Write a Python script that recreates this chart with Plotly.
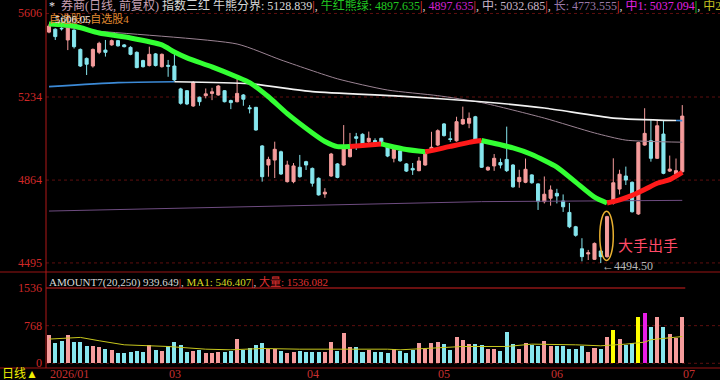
import plotly.graph_objects as go

W, H = 720, 380

# ---------------- data ----------------
TICK_IDX = [0, 19, 41, 62, 80, 101]
TICK_LABELS = ["2026/01", "03", "04", "05", "06", "07"]
PRICE_TICKS = [5606, 5234, 4864, 4495]
VOL_TICKS = [1536, 768, 0]

OPEN = [5523, 5536, 5540, 5488, 5532, 5446, 5406, 5372, 5433, 5443,
        5466, 5485, 5466, 5455, 5433, 5396, 5374, 5426, 5369, 5375,
        5372, 5270, 5262, 5194, 5233, 5240, 5250, 5243, 5262, 5218,
        5213, 5243, 5186, 5188, 5016, 4931, 4953, 4990, 4857, 4857,
        4921, 4946, 4916, 4872, 4802, 4882, 4936, 4931, 4968, 5057,
        5068, 5035, 5040, 5050, 5017, 4961, 4994, 4936, 4916, 4906,
        4931, 4995, 5020, 5114, 5048, 5039, 5114, 5117, 5146, 5035,
        4909, 4927, 4942, 4956, 4931, 4857, 4854, 4887, 4847, 4768,
        4783, 4805, 4771, 4720, 4656, 4558, 4535, 4511, 4548, 4523,
        4761, 4824, 4882, 4854, 4713, 5020, 5039, 4961, 5069, 4904,
        4891, 4901]
HIGH = [5560, 5540, 5545, 5606.05, 5535, 5450, 5410, 5450, 5480, 5488,
        5490, 5488, 5470, 5460, 5437, 5400, 5458, 5430, 5428, 5399,
        5443, 5275, 5265, 5305, 5236, 5272, 5275, 5287, 5265, 5222,
        5324, 5247, 5198, 5190, 5020, 4968, 5035, 4995, 4950, 4940,
        4976, 4950, 4920, 4876, 4828, 4985, 4940, 5109, 5074, 5074,
        5072, 5080, 5050, 5052, 5020, 5005, 4998, 4940, 4940, 4967,
        4990, 5079, 5090, 5118, 5080, 5146, 5191, 5165, 5150, 5040,
        4925, 4980, 4960, 5102, 4935, 4910, 4960, 4890, 4850, 4880,
        4840, 4825, 4800, 4762, 4660, 4605, 4553, 4586, 4552, 4705,
        4961, 4910, 4924, 4858, 5035, 5184, 5132, 5132, 5128, 4973,
        4960, 5198]
LOW = [5518, 5488, 5530, 5443, 5450, 5368, 5332, 5365, 5425, 5414,
       5462, 5458, 5455, 5420, 5362, 5365, 5370, 5370, 5365, 5324,
       5305, 5200, 5198, 5190, 5195, 5228, 5220, 5240, 5210, 5180,
       5210, 5195, 5161, 5084, 4857, 4879, 4873, 4887, 4853, 4850,
       4875, 4909, 4835, 4795, 4785, 4878, 4872, 4928, 4965, 4998,
       5020, 5020, 5020, 5020, 4966, 4943, 4945, 4900, 4887, 4903,
       4928, 4990, 5015, 5058, 5034, 5035, 5110, 5095, 5040, 4918,
       4905, 4905, 4916, 4900, 4830, 4830, 4850, 4848, 4731, 4760,
       4750, 4760, 4722, 4650, 4612, 4502, 4508, 4508, 4494.5, 4518,
       4755, 4800, 4842, 4719, 4709, 5017, 4946, 4958, 4890, 4900,
       4890, 4898]
CLOSE = [5550, 5503, 5538, 5547, 5458, 5372, 5380, 5446, 5473, 5433,
         5485, 5462, 5458, 5424, 5365, 5369, 5424, 5374, 5424, 5371,
         5310, 5206, 5203, 5299, 5213, 5248, 5257, 5283, 5213, 5209,
         5250, 5224, 5182, 5087, 4879, 4956, 5001, 4891, 4931, 4927,
         4879, 4931, 4850, 4798, 4810, 4980, 4876, 5005, 5020, 5050,
         5023, 5050, 5031, 5025, 4971, 5001, 4950, 4904, 4909, 4949,
         4986, 5010, 5084, 5062, 5045, 5124, 5134, 5139, 5042, 4921,
         4921, 4961, 4931, 4906, 4834, 4876, 4912, 4852, 4768, 4801,
         4820, 4793, 4745, 4656, 4618, 4523, 4540, 4582, 4523, 4701,
         4852, 4890, 4864, 4723, 5031, 5072, 4961, 5106, 4894, 4913,
         4906, 5149]
VOLUME = [583, 412, 446, 583, 432, 432, 357, 357, 336, 288,
          268, 206, 206, 227, 261, 227, 364, 275, 261, 343,
          432, 364, 240, 261, 275, 220, 220, 240, 240, 261,
          494, 275, 322, 364, 412, 295, 295, 261, 220, 240,
          254, 240, 227, 240, 227, 432, 261, 617, 329, 329,
          227, 275, 240, 240, 206, 302, 261, 220, 275, 412,
          288, 412, 432, 391, 275, 528, 481, 391, 391, 364,
          288, 302, 261, 631, 391, 295, 419, 364, 343, 446,
          343, 343, 357, 295, 295, 343, 227, 322, 302, 535,
          680, 494, 364, 412, 940, 1016, 734, 948, 734, 604,
          515, 940]
VOL_YELLOW = [90, 94]
VOL_MAGENTA = [95]

# 牛红熊绿 line (read at sample bars)
BB_IDX = [0, 4, 8, 13, 18, 20, 22, 26, 30, 32, 35, 38, 42, 44, 46, 48,
          51, 53, 54, 57, 60, 61, 64, 67, 69, 74, 77, 81, 84, 87, 89,
          91, 93, 95, 97, 99, 101]
BB_VAL = [5559, 5550, 5519, 5497, 5466, 5434, 5408, 5368, 5323, 5298, 5235,
          5160, 5074, 5036, 5013, 5014, 5020, 5025, 5018, 5000, 4990, 4995,
          5014, 5032, 5040, 5007, 4978, 4922, 4855, 4788, 4762, 4776, 4796,
          4822, 4850, 4866, 4898]
BB_SEG_START = [0, 48, 53, 60, 69, 89]
BB_SEG_BULL = [False, True, False, True, False, True]

# 牛熊分界 line
DIV_IDX = [0, 11, 20, 32, 42, 56, 69, 79, 90, 100, 101]
DIV_VAL = [5280, 5298, 5302, 5293, 5258, 5238, 5213, 5185, 5140, 5129, 5128.8]
DIV_SEG_START = [0, 20, 100]
DIV_SEG_WHITE = [False, True, False]

# 中 line
MID_IDX = [0, 6, 30, 37, 46, 54, 62, 69, 79, 87, 92, 101]
MID_VAL = [5556, 5532, 5470, 5399, 5315, 5265, 5240, 5209, 5140, 5074, 5042, 5032.7]

# 长 line
LONG_IDX = [0, 30, 69, 101]
LONG_VAL = [4726, 4745, 4768, 4773.6]

# MA1 of amount
MA1_IDX = [0, 4, 5, 8, 12, 19, 25, 29, 34, 40, 45, 49, 54, 56, 61, 66, 73,
           77, 84, 88, 92, 95, 96, 99, 101]
MA1_VAL = [494, 528, 528, 460, 377, 343, 288, 275, 302, 288, 288, 302, 288,
           275, 302, 343, 343, 391, 377, 357, 391, 432, 481, 515, 546.4]

SIGNAL_IDX = 89
LOW_MARK_IDX = 88
HIGH_MARK_TEXT = "5606.05"

# ---------------- styling ----------------
PINK = "#f59c9c"
CYAN = "#86e6ee"
GRID = "#5e0f0f"
SERIF = "Liberation Serif, Noto Sans CJK SC"

def px(x):
    return x / W

def py(y):
    return 1 - y / H

N = len(OPEN)
IDX = list(range(N))

fig = go.Figure()

fig.add_trace(go.Candlestick(
    x=IDX, open=OPEN, high=HIGH, low=LOW, close=CLOSE,
    increasing=dict(line=dict(color=PINK, width=1), fillcolor=PINK),
    decreasing=dict(line=dict(color=CYAN, width=1), fillcolor=CYAN),
    whiskerwidth=0, hoverinfo="skip", xaxis="x", yaxis="y", showlegend=False))


def seg_traces(idx, val, starts, flags, color_true, color_false, width, axis_y="y"):
    for k, s in enumerate(starts):
        e = starts[k + 1] if k + 1 < len(starts) else idx[-1]
        xs = [i for i in idx if s <= i <= e]
        ys = [v for i, v in zip(idx, val) if s <= i <= e]
        fig.add_trace(go.Scatter(
            x=xs, y=ys, mode="lines",
            line=dict(color=color_true if flags[k] else color_false, width=width,
                      shape="spline", smoothing=0.6),
            hoverinfo="skip", showlegend=False, xaxis="x", yaxis=axis_y))

# long & mid lines
fig.add_trace(go.Scatter(x=LONG_IDX, y=LONG_VAL, mode="lines",
                         line=dict(color="#6e4c80", width=1), hoverinfo="skip",
                         showlegend=False))
fig.add_trace(go.Scatter(x=MID_IDX, y=MID_VAL, mode="lines",
                         line=dict(color="#9c8494", width=1, shape="spline", smoothing=0.6),
                         hoverinfo="skip", showlegend=False))
seg_traces(DIV_IDX, DIV_VAL, DIV_SEG_START, DIV_SEG_WHITE, "#f2f2f2", "#3c8ad6", 1.6)
seg_traces(BB_IDX, BB_VAL, BB_SEG_START, BB_SEG_BULL, "#ff1a1a", "#33ff33", 5)

# volume
vcolors = []
for i in IDX:
    if i in VOL_MAGENTA:
        vcolors.append("#e81ee8")
    elif i in VOL_YELLOW:
        vcolors.append("#ffff00")
    else:
        vcolors.append(PINK if CLOSE[i] >= OPEN[i] else CYAN)
fig.add_trace(go.Bar(x=IDX, y=VOLUME, marker=dict(color=vcolors, line=dict(width=0)),
                     width=0.64, hoverinfo="skip", showlegend=False,
                     xaxis="x2", yaxis="y2"))
fig.add_trace(go.Scatter(x=MA1_IDX, y=MA1_VAL, mode="lines",
                         line=dict(color="#c8c81e", width=1),
                         hoverinfo="skip", showlegend=False, xaxis="x2", yaxis="y2"))

# ---------------- axes ----------------
XR = [(46 - 49) / 6.27, (720 - 49) / 6.27]
fig.update_layout(
    width=W, height=H, margin=dict(l=0, r=0, t=0, b=0),
    paper_bgcolor="black", plot_bgcolor="black",
    bargap=0,
    xaxis=dict(domain=[46 / W, 1], range=XR, visible=False, rangeslider=dict(visible=False),
               fixedrange=True),
    yaxis=dict(domain=[1 - 272 / H, 1], range=[4454.6, 5666.0], visible=False),
    xaxis2=dict(domain=[46 / W, 1], range=XR, visible=False, anchor="y2", matches="x"),
    yaxis2=dict(domain=[1 - 366 / H, 1 - 283 / H], range=[-55, 1638], visible=False,
                anchor="x2"),
)

shapes = []
for p in PRICE_TICKS:
    shapes.append(dict(type="line", xref="paper", yref="y", x0=px(46), x1=1, y0=p, y1=p,
                       line=dict(color=GRID, width=1, dash="dot"), layer="below"))
shapes.append(dict(type="line", xref="paper", yref="y2", x0=px(46), x1=1, y0=768, y1=768,
                   line=dict(color=GRID, width=1, dash="dot"), layer="below"))
shapes.append(dict(type="line", xref="paper", yref="y2", x0=px(46), x1=1, y0=0, y1=0,
                   line=dict(color=GRID, width=1, dash="dot"), layer="below"))
# 大量 line
shapes.append(dict(type="line", xref="paper", yref="y2", x0=px(46), y0=1536, y1=1536,
                   x1=px(49 + 6.27 * (N - 1) + 3),
                   line=dict(color="#d42020", width=1)))
# pane borders
for yy in [272, 368]:
    shapes.append(dict(type="line", xref="paper", yref="paper", x0=0, x1=1,
                       y0=py(yy), y1=py(yy), line=dict(color="#9a1414", width=1)))
shapes.append(dict(type="line", xref="paper", yref="paper", x0=px(46), x1=px(46),
                   y0=py(0), y1=py(368), line=dict(color="#b01818", width=1)))
# signal ellipse
shapes.append(dict(type="circle", xref="x", yref="y",
                   x0=SIGNAL_IDX - 1.15, x1=SIGNAL_IDX + 1.0,
                   y0=LOW[SIGNAL_IDX] - 12, y1=HIGH[SIGNAL_IDX] + 20,
                   line=dict(color="#e8b030", width=1.5)))
fig.update_layout(shapes=shapes)

ann = []
for p in PRICE_TICKS:
    ann.append(dict(xref="paper", yref="y", x=px(44), y=p, text=str(p), showarrow=False,
                    xanchor="right", yanchor="middle",
                    font=dict(family=SERIF, size=12, color="#d02828")))
for v in VOL_TICKS:
    ann.append(dict(xref="paper", yref="y2", x=px(44), y=v, text=str(v), showarrow=False,
                    xanchor="right", yanchor="middle",
                    font=dict(family=SERIF, size=12, color="#d02828")))
for i, lab in zip(TICK_IDX, TICK_LABELS):
    ann.append(dict(xref="x", yref="paper", x=i - 0.2, y=py(374), text=lab, showarrow=False,
                    xanchor="left", yanchor="middle",
                    font=dict(family=SERIF, size=12, color="#c83030")))
ann.append(dict(xref="paper", yref="paper", x=0, y=py(374), text="日线▲", showarrow=False,
                xanchor="left", yanchor="middle",
                font=dict(family=SERIF, size=12, color="#f0f000")))


def spans(parts):
    return "".join(f"<span style='color:{c}'>{t}</span>" for t, c in parts)

SEP = "#ff4040"
title = spans([
    ("*", "#e8e8e8"), ("  券商(日线, 前复权) ", "#c8a0b4"),
    ("指数三红 牛熊分界: 5128.839", "#d8d8d8"), ("|", SEP), (", ", "#d8d8d8"),
    ("牛红熊绿: 4897.635", "#22c822"), ("|", SEP), (", ", "#d8d8d8"),
    ("4897.635", "#d020d0"), ("|", SEP), (", ", "#d8d8d8"),
    ("中: 5032.685", "#c8b4c8"), ("|", SEP), (", ", "#d8d8d8"),
    ("长: 4773.555", "#9a78a8"), ("|", SEP), (", ", "#d8d8d8"),
    ("中1: 5037.094", "#e020e0"), ("|", "#30ff30"), (", ", "#d8d8d8"),
    ("中2", "#c8c020"),
])
ann.append(dict(xref="paper", yref="paper", x=px(47), y=py(5), text=title, showarrow=False,
                xanchor="left", yanchor="middle", font=dict(family=SERIF, size=12)))
ann.append(dict(xref="paper", yref="paper", x=px(47), y=py(19), text="自选股3,自选股4",
                showarrow=False, xanchor="left", yanchor="middle",
                font=dict(family=SERIF, size=11, color="#e08a30")))
ann.append(dict(xref="paper", yref="paper", x=px(53), y=py(19), text=HIGH_MARK_TEXT,
                showarrow=False, xanchor="left", yanchor="middle",
                font=dict(family=SERIF, size=11, color="#e8e8e8")))

vol_title = spans([
    ("AMOUNT7(20,250) 939.649", "#d8d8d8"), ("|", SEP), (", ", "#d8d8d8"),
    ("MA1: 546.407", "#d8d820"), ("|", SEP), (", ", "#d8d8d8"),
    ("大量: 1536.082", "#e03030"),
])
ann.append(dict(xref="paper", yref="paper", x=px(47), y=py(282), text=vol_title,
                showarrow=False, xanchor="left", yanchor="middle",
                font=dict(family=SERIF, size=11)))

ann.append(dict(xref="x", yref="y", x=LOW_MARK_IDX - 0.1, y=LOW[LOW_MARK_IDX],
                text="←%.2f" % LOW[LOW_MARK_IDX], showarrow=False,
                xanchor="left", yanchor="middle", yshift=-3,
                font=dict(family=SERIF, size=12, color="#b8b8b8")))
ann.append(dict(xref="x", yref="y", x=SIGNAL_IDX + 1.5, y=4575, text="大手出手",
                showarrow=False, xanchor="left", yanchor="middle",
                font=dict(family="Noto Sans CJK SC", size=15, color="#ff4a66")))
fig.update_layout(annotations=ann)

fig.write_html("out.html")
